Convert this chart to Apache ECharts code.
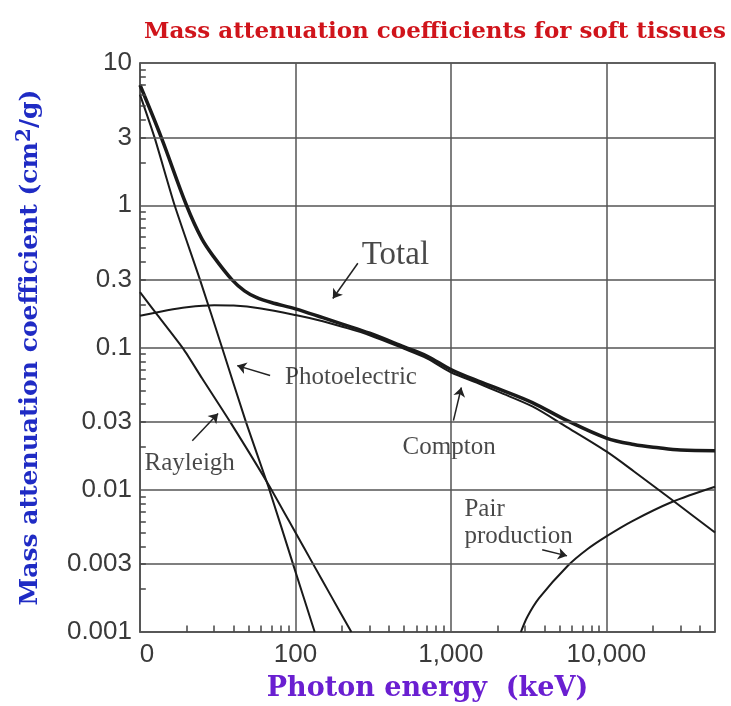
<!DOCTYPE html>
<html>
<head>
<meta charset="utf-8">
<script src="https://cdn.jsdelivr.net/npm/echarts@6/dist/echarts.min.js"></script>
<style>
html,body{margin:0;padding:0;background:#fff;}
#chart{width:731px;height:706px;}
</style>
</head>
<body>
<div id="chart"></div>
<script>
// ---- Data ----
const totalEnergy = [10, 13.7, 19.9, 25, 30, 39, 47, 56, 70, 100, 150, 200, 300, 500, 700, 1000, 1500, 2046, 3343, 5470, 10000, 15000, 21700, 30000, 50000];
const totalValues = [7.0, 3.0, 1.0, 0.58, 0.43, 0.30, 0.25, 0.225, 0.207, 0.187, 0.162, 0.146, 0.126, 0.101, 0.087, 0.070, 0.058, 0.051, 0.041, 0.031, 0.0231, 0.0208, 0.0197, 0.019, 0.0188];

const comptonEnergy = [10, 15, 20, 30, 40, 60, 100, 150, 200, 300, 500, 700, 1000, 1500, 2046, 3343, 5470, 10000, 15000, 26400, 50000];
const comptonValues = [0.167, 0.183, 0.192, 0.198, 0.197, 0.188, 0.169, 0.153, 0.14, 0.122, 0.098, 0.084, 0.067, 0.056, 0.0485, 0.0385, 0.0279, 0.0186, 0.0135, 0.0085, 0.005];

const photoEnergy = [10, 12.4, 16.7, 24.3, 33.7, 48, 67, 96.5, 133];
const photoValues = [6.0, 3.0, 1.0, 0.3, 0.1, 0.03, 0.0105, 0.003, 0.001];

const rayleighEnergy = [10, 13, 19.1, 25, 38, 67, 100, 130, 170, 229];
const rayleighValues = [0.245, 0.168, 0.097, 0.061, 0.03, 0.0109, 0.005, 0.003, 0.00178, 0.001];

const pairEnergy = [2820, 3105, 3690, 5610, 7500, 10000, 14600, 26400, 50000];
const pairValues = [0.001, 0.00128, 0.00173, 0.0029, 0.0038, 0.0047, 0.006, 0.0082, 0.0105];

const xTickValues = [10, 100, 1000, 10000];
const xTickLabels = ['0', '100', '1,000', '10,000'];
const yMajorValues = [0.001, 0.01, 0.1, 1, 10];
const yMajorLabels = ['0.001', '0.01', '0.1', '1', '10'];
const yExtraValues = [0.003, 0.03, 0.3, 3];
const yExtraLabels = ['0.003', '0.03', '0.3', '3'];

// annotations: text and anchor [energy, value]
const annotationTexts = ['Total', 'Photoelectric', 'Rayleigh', 'Compton', 'Pair\nproduction'];
const annotationAnchors = [[267, 0.445], [85.7, 0.0615], [10.7, 0.0152], [489, 0.0198], [1222, 0.00586]];
// arrows: [[fromE, fromV], [toE, toV]]
const arrowLines = [
  [[252, 0.391], [174, 0.221]],
  [[68.7, 0.0635], [42.2, 0.0746]],
  [[21.7, 0.0221], [31.8, 0.0343]],
  [[1038, 0.0306], [1167, 0.0523]],
  [[3865, 0.00378], [5585, 0.00343]]
];

const X_MIN = 10, X_MAX = 50000, Y_MIN = 0.001, Y_MAX = 10;
const zip = (xs, ys) => xs.map((x, i) => [x, ys[i]]);

// log minor ticks positions (2..9 in each decade)
const xMinor = [];
for (let d = 10; d < X_MAX; d *= 10) for (let m = 2; m <= 9; m++) if (d * m < X_MAX) xMinor.push(d * m);
const yMinor = [];
for (let k = -3; k < 1; k++) for (let m = 2; m <= 9; m++) yMinor.push(+(m * Math.pow(10, k)).toPrecision(3));

const gridColor = '#555';
const curveColor = '#1a1a1a';
const labelFont = { fontFamily: 'Liberation Sans', fontSize: 26, color: '#3a3a3a' };

const extraGridData = yExtraValues.map((v, i) => [
  { coord: [X_MIN, v], name: yExtraLabels[i] },
  { coord: [X_MAX, v] }
]);
const minorTickData = [];
xMinor.forEach(e => minorTickData.push([{ coord: [e, Y_MIN] }, { coord: [e, 0.00111] }]));
yMinor.forEach(v => minorTickData.push([{ coord: [X_MIN, v] }, { coord: [10.9, v] }]));

const chart = echarts.init(document.getElementById('chart'), null, { renderer: 'canvas' });
chart.setOption({
  animation: false,
  backgroundColor: '#fff',
  title: {
    text: 'Mass attenuation coefficients for soft tissues',
    left: 139, top: 16,
    textStyle: { fontFamily: 'DejaVu Serif', fontWeight: 'bold', fontSize: 23, color: '#d0141b' }
  },
  grid: {
    left: 140, right: 16, top: 63, bottom: 74, containLabel: false, outerBoundsMode: 'none',
    show: true, borderColor: gridColor, borderWidth: 1.5, backgroundColor: 'transparent'
  },
  xAxis: {
    type: 'log', logBase: 10, min: X_MIN, max: X_MAX,
    name: 'Photon energy  (keV)', nameLocation: 'middle', nameGap: 43,
    nameTextStyle: { fontFamily: 'DejaVu Serif', fontWeight: 'bold', fontSize: 27, color: '#6a1fd1' },
    axisLine: { show: true, lineStyle: { color: gridColor, width: 1.5 } },
    axisTick: { show: false },
    splitLine: { show: true, lineStyle: { color: gridColor, width: 1.5 } },
    axisLabel: Object.assign({
      margin: 10,
      formatter: (val) => {
        const i = xTickValues.findIndex(t => Math.abs(Math.log10(val) - Math.log10(t)) < 1e-6);
        if (i < 0) return '';
        return i === 0 ? '{z|' + xTickLabels[i] + '}' : xTickLabels[i];
      },
      rich: { z: Object.assign({ padding: [0, 0, 0, 14] }, labelFont) }
    }, labelFont)
  },
  yAxis: {
    type: 'log', logBase: 10, min: Y_MIN, max: Y_MAX,
    name: 'Mass attenuation coefficient (cm{sup|2}/g)', nameLocation: 'middle', nameGap: 95,
    nameTextStyle: {
      fontFamily: 'DejaVu Serif', fontWeight: 'bold', fontSize: 25, color: '#1f2bc4',
      rich: { sup: { fontFamily: 'DejaVu Serif', fontWeight: 'bold', fontSize: 20, color: '#1f2bc4', verticalAlign: 'top', padding: [0, 0, 10, 0] } }
    },
    axisLine: { show: true, lineStyle: { color: gridColor, width: 1.5 } },
    axisTick: { show: false },
    splitLine: { show: true, lineStyle: { color: gridColor, width: 1.5 } },
    axisLabel: Object.assign({
      margin: 8,
      formatter: (val) => {
        const i = yMajorValues.findIndex(t => Math.abs(Math.log10(val) - Math.log10(t)) < 1e-6);
        return i >= 0 ? yMajorLabels[i] : '';
      }
    }, labelFont)
  },
  series: [
    {
      name: 'grid3', type: 'line', data: [[X_MIN, Y_MIN]], symbol: 'none', silent: true,
      lineStyle: { opacity: 0 }, z: 1,
      markLine: {
        silent: true, symbol: 'none', animation: false, precision: 6,
        lineStyle: { color: gridColor, width: 1.5, type: 'solid' },
        label: Object.assign({ show: true, position: 'start', distance: 8, formatter: (p) => p.name }, labelFont),
        data: extraGridData
      }
    },
    {
      name: 'ticks', type: 'line', data: [[X_MIN, Y_MIN]], symbol: 'none', silent: true,
      lineStyle: { opacity: 0 }, z: 1,
      markLine: {
        silent: true, symbol: 'none', animation: false,
        lineStyle: { color: '#444', width: 1.5, type: 'solid' },
        label: { show: false },
        data: minorTickData
      }
    },
    {
      name: 'Photoelectric', type: 'line', data: zip(photoEnergy, photoValues), symbol: 'none', smooth: 0.2,
      lineStyle: { color: curveColor, width: 2 }, z: 3
    },
    {
      name: 'Rayleigh', type: 'line', data: zip(rayleighEnergy, rayleighValues), symbol: 'none', smooth: 0.2,
      lineStyle: { color: curveColor, width: 2 }, z: 3
    },
    {
      name: 'Compton', type: 'line', data: zip(comptonEnergy, comptonValues), symbol: 'none', smooth: 0.3,
      lineStyle: { color: curveColor, width: 2 }, z: 3
    },
    {
      name: 'Pair production', type: 'line', data: zip(pairEnergy, pairValues), symbol: 'none', smooth: 0.3,
      lineStyle: { color: curveColor, width: 2 }, z: 3
    },
    {
      name: 'Total', type: 'line', data: zip(totalEnergy, totalValues), symbol: 'none', smooth: 0.35,
      lineStyle: { color: curveColor, width: 3.5 }, z: 4
    },
    {
      name: 'arrows', type: 'line', data: [[X_MIN, Y_MIN]], symbol: 'none', silent: true,
      lineStyle: { opacity: 0 }, z: 5,
      markLine: {
        silent: true, symbol: ['none', 'arrow'], symbolSize: [9, 9], animation: false,
        lineStyle: { color: '#222', width: 1.5, type: 'solid' },
        label: { show: false },
        data: arrowLines.map(a => [{ coord: a[0] }, { coord: a[1] }])
      }
    },
    {
      name: 'labels', type: 'scatter', symbolSize: 0, silent: true, z: 6,
      data: annotationTexts.map((t, i) => ({
        name: t, value: annotationAnchors[i],
        label: t === 'Total' ? { fontSize: 33 } : undefined
      })),
      label: {
        show: true, position: 'right', distance: 0, formatter: '{b}',
        fontFamily: 'Liberation Serif', fontSize: 25, color: '#1a1a1a', lineHeight: 27
      }
    }
  ]
});
</script>
</body>
</html>
